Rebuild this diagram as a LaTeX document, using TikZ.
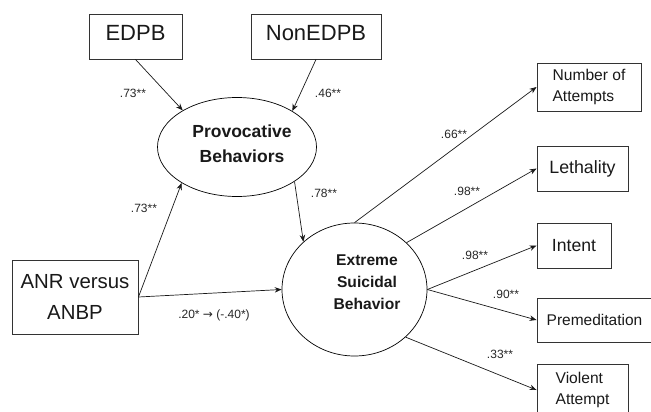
\documentclass[tikz,border=0pt]{standalone}
\usepackage{fontspec}
\setmainfont{Liberation Sans}
\newfontfamily\arrowfont{DejaVu Sans}
\usetikzlibrary{shapes.geometric,arrows.meta}
\begin{document}
\begin{tikzpicture}[x=1pt,y=-1pt,
  box/.style={draw=black!80,line width=0.9pt,inner sep=0pt,text=black!90},
  oval/.style={ellipse,draw=black,line width=0.7pt,inner sep=0pt},
  ovaltext/.style={inner sep=0pt,align=center,font=\bfseries,text=black!90},
  arr/.style={draw=black!90,line width=0.7pt,-{Stealth[length=7pt,width=5.5pt]}},
  lab/.style={font=\fontsize{12}{14}\selectfont,inner sep=0pt,text=black!85}]
\useasboundingbox (0,0) rectangle (651,412);
% top boxes
\node[box,minimum width=93pt,minimum height=45pt,text height=15.5pt,text depth=8pt,font=\fontsize{22}{26}\selectfont] (edpb) at (135.5,36.5) {EDPB};
\node[box,minimum width=130pt,minimum height=45pt,text height=15.5pt,text depth=8pt,font=\fontsize{22}{26}\selectfont] (nonedpb) at (316,36.5) {NonEDPB};
% latent variables
\node[oval,minimum width=159pt,minimum height=99pt] (prov) at (237,147) {};
\node[ovaltext,font=\bfseries\fontsize{17.5}{25}\selectfont] (provt) at (242,144) {Provocative\\Behaviors};
\node[oval,minimum width=145pt,minimum height=133pt] (ext) at (354.5,289.5) {};
\node[ovaltext,font=\bfseries\fontsize{15.6}{22}\selectfont] (extt) at (367,282.4) {Extreme\\Suicidal\\Behavior};
% predictor
\node[box,minimum width=126pt,minimum height=74pt,align=center,font=\fontsize{20.4}{31}\selectfont] (anr) at (75,297) {ANR versus\\ANBP};
% indicators
\node[box,minimum width=104pt,minimum height=48pt,align=left,font=\fontsize{15.6}{21}\selectfont] (num) at (589,87) {Number of\\Attempts};
\node[box,minimum width=91pt,minimum height=45pt,font=\fontsize{17.8}{21}\selectfont] (leth) at (582.5,168.5) {Lethality};
\node[box,minimum width=74pt,minimum height=45pt,font=\fontsize{17.6}{21}\selectfont] (intent) at (574,245.5) {Intent};
\node[box,minimum width=115pt,minimum height=44pt,font=\fontsize{15.5}{21}\selectfont] (prem) at (594.5,320) {Premeditation};
\node[box,minimum width=91pt,minimum height=52pt,align=left,font=\fontsize{15.6}{21}\selectfont] (viol) at (582.5,390) {Violent\\Attempt};
% connectors
\draw[arr] (edpb.south) -- (prov.146.5);
\draw[arr] (nonedpb.south) -- (prov.33.5);
\draw[arr] (anr.east) -- (prov.213);
\draw[arr] (anr.east) -- (ext.west);
\draw[arr] (prov.329.5) -- (ext.137.3);
\draw[arr] (ext.north) -- (num.west);
\draw[arr] (ext.42.7) -- (leth.west);
\draw[arr] (ext.east) -- (intent.west);
\draw[arr] (ext.east) -- (prem.west);
\draw[arr] (ext.317.3) -- (viol.west);
% labels
\node[lab] (l1) at (133,93) {.73**};
\node[lab] (l2) at (328,93) {.46**};
\node[lab] (l3) at (144,208) {.73**};
\node[lab] (l4) at (324,193) {.78**};
\node[lab] (l5) at (214,315) {.20* {\arrowfont\fontsize{12}{14}\selectfont→} (-.40*)};
\node[lab] (l6) at (454,134) {.66**};
\node[lab] (l7) at (467,191) {.98**};
\node[lab] (l8) at (475,255) {.98**};
\node[lab] (l9) at (506,294) {.90**};
\node[lab] (l10) at (500,354) {.33**};
\end{tikzpicture}
\end{document}
